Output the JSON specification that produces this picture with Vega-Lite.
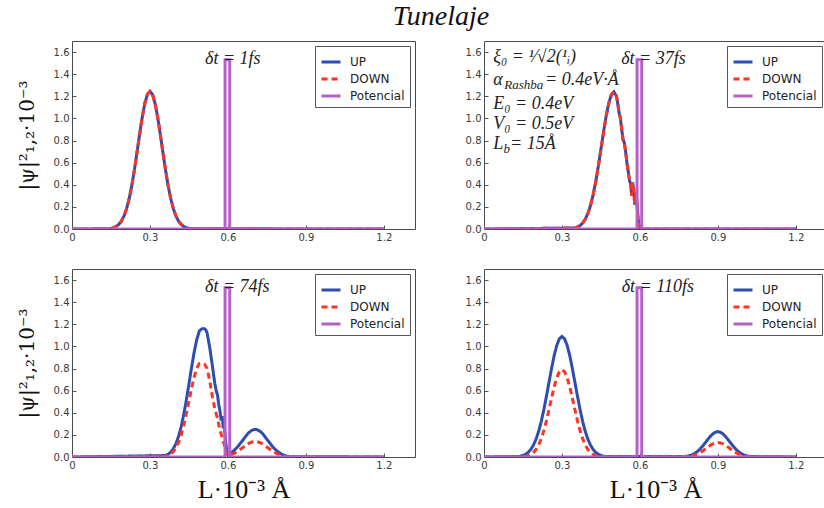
{
  "$schema": "https://vega.github.io/schema/vega-lite/v6.json",
  "padding": {"left": 16, "top": 2, "right": 0, "bottom": 0},
  "title": {"text": "Tunelaje", "font": "Liberation Serif", "fontStyle": "italic", "fontWeight": "normal", "fontSize": 28, "anchor": "middle", "offset": 10, "dx": 19, "color": "#111"},
  "columns": 2,
  "spacing": {"row": 40, "column": 69},
  "bounds": "flush",
  "datasets": {
    "curves": [
      {"panel":1,"series":"UP","x":0,"y":0},{"panel":1,"series":"UP","x":0.14,"y":0.002},{"panel":1,"series":"UP","x":0.15,"y":0.005},{"panel":1,"series":"UP","x":0.16,"y":0.012},{"panel":1,"series":"UP","x":0.17,"y":0.023},{"panel":1,"series":"UP","x":0.18,"y":0.041},{"panel":1,"series":"UP","x":0.19,"y":0.071},{"panel":1,"series":"UP","x":0.2,"y":0.117},{"panel":1,"series":"UP","x":0.21,"y":0.184},{"panel":1,"series":"UP","x":0.22,"y":0.274},{"panel":1,"series":"UP","x":0.23,"y":0.391},{"panel":1,"series":"UP","x":0.24,"y":0.532},{"panel":1,"series":"UP","x":0.25,"y":0.69},{"panel":1,"series":"UP","x":0.26,"y":0.853},{"panel":1,"series":"UP","x":0.27,"y":1.006},{"panel":1,"series":"UP","x":0.28,"y":1.133},{"panel":1,"series":"UP","x":0.29,"y":1.216},{"panel":1,"series":"UP","x":0.3,"y":1.245},{"panel":1,"series":"UP","x":0.31,"y":1.216},{"panel":1,"series":"UP","x":0.32,"y":1.133},{"panel":1,"series":"UP","x":0.33,"y":1.006},{"panel":1,"series":"UP","x":0.34,"y":0.853},{"panel":1,"series":"UP","x":0.35,"y":0.69},{"panel":1,"series":"UP","x":0.36,"y":0.532},{"panel":1,"series":"UP","x":0.37,"y":0.391},{"panel":1,"series":"UP","x":0.38,"y":0.274},{"panel":1,"series":"UP","x":0.39,"y":0.184},{"panel":1,"series":"UP","x":0.4,"y":0.117},{"panel":1,"series":"UP","x":0.41,"y":0.071},{"panel":1,"series":"UP","x":0.42,"y":0.041},{"panel":1,"series":"UP","x":0.43,"y":0.023},{"panel":1,"series":"UP","x":0.44,"y":0.012},{"panel":1,"series":"UP","x":0.45,"y":0.005},{"panel":1,"series":"UP","x":0.46,"y":0.002},{"panel":1,"series":"UP","x":1.2,"y":0},
      {"panel":1,"series":"DOWN","x":0,"y":0},{"panel":1,"series":"DOWN","x":0.14,"y":0.002},{"panel":1,"series":"DOWN","x":0.15,"y":0.005},{"panel":1,"series":"DOWN","x":0.16,"y":0.012},{"panel":1,"series":"DOWN","x":0.17,"y":0.023},{"panel":1,"series":"DOWN","x":0.18,"y":0.041},{"panel":1,"series":"DOWN","x":0.19,"y":0.071},{"panel":1,"series":"DOWN","x":0.2,"y":0.117},{"panel":1,"series":"DOWN","x":0.21,"y":0.184},{"panel":1,"series":"DOWN","x":0.22,"y":0.274},{"panel":1,"series":"DOWN","x":0.23,"y":0.391},{"panel":1,"series":"DOWN","x":0.24,"y":0.532},{"panel":1,"series":"DOWN","x":0.25,"y":0.69},{"panel":1,"series":"DOWN","x":0.26,"y":0.853},{"panel":1,"series":"DOWN","x":0.27,"y":1.006},{"panel":1,"series":"DOWN","x":0.28,"y":1.133},{"panel":1,"series":"DOWN","x":0.29,"y":1.216},{"panel":1,"series":"DOWN","x":0.3,"y":1.245},{"panel":1,"series":"DOWN","x":0.31,"y":1.216},{"panel":1,"series":"DOWN","x":0.32,"y":1.133},{"panel":1,"series":"DOWN","x":0.33,"y":1.006},{"panel":1,"series":"DOWN","x":0.34,"y":0.853},{"panel":1,"series":"DOWN","x":0.35,"y":0.69},{"panel":1,"series":"DOWN","x":0.36,"y":0.532},{"panel":1,"series":"DOWN","x":0.37,"y":0.391},{"panel":1,"series":"DOWN","x":0.38,"y":0.274},{"panel":1,"series":"DOWN","x":0.39,"y":0.184},{"panel":1,"series":"DOWN","x":0.4,"y":0.117},{"panel":1,"series":"DOWN","x":0.41,"y":0.071},{"panel":1,"series":"DOWN","x":0.42,"y":0.041},{"panel":1,"series":"DOWN","x":0.43,"y":0.023},{"panel":1,"series":"DOWN","x":0.44,"y":0.012},{"panel":1,"series":"DOWN","x":0.45,"y":0.005},{"panel":1,"series":"DOWN","x":0.46,"y":0.002},{"panel":1,"series":"DOWN","x":1.2,"y":0},
      {"panel":1,"series":"Potencial","x":0,"y":0},{"panel":1,"series":"Potencial","x":0.589,"y":0},{"panel":1,"series":"Potencial","x":0.589,"y":1.53},{"panel":1,"series":"Potencial","x":0.607,"y":1.53},{"panel":1,"series":"Potencial","x":0.607,"y":0},{"panel":1,"series":"Potencial","x":1.2,"y":0},

      {"panel":2,"series":"UP","x":0,"y":0},{"panel":2,"series":"UP","x":0.35,"y":0.009},{"panel":2,"series":"UP","x":0.36,"y":0.018},{"panel":2,"series":"UP","x":0.37,"y":0.032},{"panel":2,"series":"UP","x":0.38,"y":0.054},{"panel":2,"series":"UP","x":0.39,"y":0.09},{"panel":2,"series":"UP","x":0.4,"y":0.141},{"panel":2,"series":"UP","x":0.41,"y":0.214},{"panel":2,"series":"UP","x":0.42,"y":0.309},{"panel":2,"series":"UP","x":0.43,"y":0.428},{"panel":2,"series":"UP","x":0.44,"y":0.568},{"panel":2,"series":"UP","x":0.45,"y":0.721},{"panel":2,"series":"UP","x":0.46,"y":0.876},{"panel":2,"series":"UP","x":0.47,"y":1.02},{"panel":2,"series":"UP","x":0.48,"y":1.137},{"panel":2,"series":"UP","x":0.49,"y":1.213},{"panel":2,"series":"UP","x":0.5,"y":1.24},{"panel":2,"series":"UP","x":0.51,"y":1.2},{"panel":2,"series":"UP","x":0.515,"y":1.13},{"panel":2,"series":"UP","x":0.52,"y":1.05},{"panel":2,"series":"UP","x":0.525,"y":1.0},{"panel":2,"series":"UP","x":0.53,"y":0.9},{"panel":2,"series":"UP","x":0.535,"y":0.81},{"panel":2,"series":"UP","x":0.54,"y":0.78},{"panel":2,"series":"UP","x":0.545,"y":0.7},{"panel":2,"series":"UP","x":0.55,"y":0.6},{"panel":2,"series":"UP","x":0.555,"y":0.52},{"panel":2,"series":"UP","x":0.56,"y":0.44},{"panel":2,"series":"UP","x":0.565,"y":0.4},{"panel":2,"series":"UP","x":0.568,"y":0.3},{"panel":2,"series":"UP","x":0.572,"y":0.42},{"panel":2,"series":"UP","x":0.576,"y":0.36},{"panel":2,"series":"UP","x":0.58,"y":0.22},{"panel":2,"series":"UP","x":0.584,"y":0.33},{"panel":2,"series":"UP","x":0.588,"y":0.26},{"panel":2,"series":"UP","x":0.592,"y":0.12},{"panel":2,"series":"UP","x":0.596,"y":0.04},{"panel":2,"series":"UP","x":0.6,"y":0},{"panel":2,"series":"UP","x":1.2,"y":0},
      {"panel":2,"series":"DOWN","x":0,"y":0},{"panel":2,"series":"DOWN","x":0.35,"y":0.009},{"panel":2,"series":"DOWN","x":0.36,"y":0.018},{"panel":2,"series":"DOWN","x":0.37,"y":0.032},{"panel":2,"series":"DOWN","x":0.38,"y":0.054},{"panel":2,"series":"DOWN","x":0.39,"y":0.09},{"panel":2,"series":"DOWN","x":0.4,"y":0.141},{"panel":2,"series":"DOWN","x":0.41,"y":0.214},{"panel":2,"series":"DOWN","x":0.42,"y":0.309},{"panel":2,"series":"DOWN","x":0.43,"y":0.428},{"panel":2,"series":"DOWN","x":0.44,"y":0.568},{"panel":2,"series":"DOWN","x":0.45,"y":0.721},{"panel":2,"series":"DOWN","x":0.46,"y":0.876},{"panel":2,"series":"DOWN","x":0.47,"y":1.02},{"panel":2,"series":"DOWN","x":0.48,"y":1.137},{"panel":2,"series":"DOWN","x":0.49,"y":1.213},{"panel":2,"series":"DOWN","x":0.5,"y":1.24},{"panel":2,"series":"DOWN","x":0.51,"y":1.2},{"panel":2,"series":"DOWN","x":0.515,"y":1.13},{"panel":2,"series":"DOWN","x":0.52,"y":1.05},{"panel":2,"series":"DOWN","x":0.525,"y":1.0},{"panel":2,"series":"DOWN","x":0.53,"y":0.9},{"panel":2,"series":"DOWN","x":0.535,"y":0.81},{"panel":2,"series":"DOWN","x":0.54,"y":0.78},{"panel":2,"series":"DOWN","x":0.545,"y":0.7},{"panel":2,"series":"DOWN","x":0.55,"y":0.6},{"panel":2,"series":"DOWN","x":0.555,"y":0.52},{"panel":2,"series":"DOWN","x":0.56,"y":0.44},{"panel":2,"series":"DOWN","x":0.565,"y":0.4},{"panel":2,"series":"DOWN","x":0.568,"y":0.3},{"panel":2,"series":"DOWN","x":0.572,"y":0.42},{"panel":2,"series":"DOWN","x":0.576,"y":0.36},{"panel":2,"series":"DOWN","x":0.58,"y":0.22},{"panel":2,"series":"DOWN","x":0.584,"y":0.33},{"panel":2,"series":"DOWN","x":0.588,"y":0.26},{"panel":2,"series":"DOWN","x":0.592,"y":0.12},{"panel":2,"series":"DOWN","x":0.596,"y":0.04},{"panel":2,"series":"DOWN","x":0.6,"y":0},{"panel":2,"series":"DOWN","x":1.2,"y":0},
      {"panel":2,"series":"Potencial","x":0,"y":0},{"panel":2,"series":"Potencial","x":0.589,"y":0},{"panel":2,"series":"Potencial","x":0.589,"y":1.53},{"panel":2,"series":"Potencial","x":0.607,"y":1.53},{"panel":2,"series":"Potencial","x":0.607,"y":0},{"panel":2,"series":"Potencial","x":1.2,"y":0},

      {"panel":3,"series":"UP","x":0,"y":0},{"panel":3,"series":"UP","x":0.36,"y":0.013},{"panel":3,"series":"UP","x":0.37,"y":0.025},{"panel":3,"series":"UP","x":0.38,"y":0.045},{"panel":3,"series":"UP","x":0.39,"y":0.075},{"panel":3,"series":"UP","x":0.4,"y":0.121},{"panel":3,"series":"UP","x":0.41,"y":0.185},{"panel":3,"series":"UP","x":0.42,"y":0.272},{"panel":3,"series":"UP","x":0.43,"y":0.383},{"panel":3,"series":"UP","x":0.44,"y":0.514},{"panel":3,"series":"UP","x":0.45,"y":0.659},{"panel":3,"series":"UP","x":0.46,"y":0.807},{"panel":3,"series":"UP","x":0.47,"y":0.946},{"panel":3,"series":"UP","x":0.48,"y":1.06},{"panel":3,"series":"UP","x":0.49,"y":1.14},{"panel":3,"series":"UP","x":0.5,"y":1.16},{"panel":3,"series":"UP","x":0.51,"y":1.16},{"panel":3,"series":"UP","x":0.515,"y":1.15},{"panel":3,"series":"UP","x":0.52,"y":1.12},{"panel":3,"series":"UP","x":0.53,"y":0.99},{"panel":3,"series":"UP","x":0.54,"y":0.83},{"panel":3,"series":"UP","x":0.545,"y":0.74},{"panel":3,"series":"UP","x":0.55,"y":0.66},{"panel":3,"series":"UP","x":0.555,"y":0.6},{"panel":3,"series":"UP","x":0.56,"y":0.56},{"panel":3,"series":"UP","x":0.565,"y":0.47},{"panel":3,"series":"UP","x":0.57,"y":0.41},{"panel":3,"series":"UP","x":0.574,"y":0.33},{"panel":3,"series":"UP","x":0.578,"y":0.37},{"panel":3,"series":"UP","x":0.582,"y":0.26},{"panel":3,"series":"UP","x":0.586,"y":0.3},{"panel":3,"series":"UP","x":0.59,"y":0.16},{"panel":3,"series":"UP","x":0.595,"y":0.07},{"panel":3,"series":"UP","x":0.6,"y":0.02},{"panel":3,"series":"UP","x":0.605,"y":0.005},{"panel":3,"series":"UP","x":0.61,"y":0.035},{"panel":3,"series":"UP","x":0.62,"y":0.052},{"panel":3,"series":"UP","x":0.63,"y":0.074},{"panel":3,"series":"UP","x":0.64,"y":0.1},{"panel":3,"series":"UP","x":0.65,"y":0.13},{"panel":3,"series":"UP","x":0.66,"y":0.16},{"panel":3,"series":"UP","x":0.67,"y":0.192},{"panel":3,"series":"UP","x":0.68,"y":0.22},{"panel":3,"series":"UP","x":0.69,"y":0.238},{"panel":3,"series":"UP","x":0.7,"y":0.249},{"panel":3,"series":"UP","x":0.71,"y":0.249},{"panel":3,"series":"UP","x":0.72,"y":0.238},{"panel":3,"series":"UP","x":0.73,"y":0.22},{"panel":3,"series":"UP","x":0.74,"y":0.192},{"panel":3,"series":"UP","x":0.75,"y":0.16},{"panel":3,"series":"UP","x":0.76,"y":0.13},{"panel":3,"series":"UP","x":0.77,"y":0.1},{"panel":3,"series":"UP","x":0.78,"y":0.074},{"panel":3,"series":"UP","x":0.79,"y":0.052},{"panel":3,"series":"UP","x":0.8,"y":0.035},{"panel":3,"series":"UP","x":0.81,"y":0.022},{"panel":3,"series":"UP","x":0.82,"y":0.013},{"panel":3,"series":"UP","x":0.83,"y":0.007},{"panel":3,"series":"UP","x":0.84,"y":0.003},{"panel":3,"series":"UP","x":1.2,"y":0},
      {"panel":3,"series":"DOWN","x":0,"y":0},{"panel":3,"series":"DOWN","x":0.36,"y":0.007},{"panel":3,"series":"DOWN","x":0.37,"y":0.015},{"panel":3,"series":"DOWN","x":0.38,"y":0.028},{"panel":3,"series":"DOWN","x":0.39,"y":0.049},{"panel":3,"series":"DOWN","x":0.4,"y":0.083},{"panel":3,"series":"DOWN","x":0.41,"y":0.131},{"panel":3,"series":"DOWN","x":0.42,"y":0.199},{"panel":3,"series":"DOWN","x":0.43,"y":0.286},{"panel":3,"series":"DOWN","x":0.44,"y":0.389},{"panel":3,"series":"DOWN","x":0.45,"y":0.504},{"panel":3,"series":"DOWN","x":0.46,"y":0.619},{"panel":3,"series":"DOWN","x":0.47,"y":0.723},{"panel":3,"series":"DOWN","x":0.48,"y":0.802},{"panel":3,"series":"DOWN","x":0.49,"y":0.845},{"panel":3,"series":"DOWN","x":0.5,"y":0.85},{"panel":3,"series":"DOWN","x":0.51,"y":0.84},{"panel":3,"series":"DOWN","x":0.52,"y":0.8},{"panel":3,"series":"DOWN","x":0.53,"y":0.69},{"panel":3,"series":"DOWN","x":0.54,"y":0.55},{"panel":3,"series":"DOWN","x":0.55,"y":0.43},{"panel":3,"series":"DOWN","x":0.555,"y":0.39},{"panel":3,"series":"DOWN","x":0.56,"y":0.35},{"panel":3,"series":"DOWN","x":0.565,"y":0.29},{"panel":3,"series":"DOWN","x":0.57,"y":0.24},{"panel":3,"series":"DOWN","x":0.575,"y":0.2},{"panel":3,"series":"DOWN","x":0.58,"y":0.16},{"panel":3,"series":"DOWN","x":0.585,"y":0.12},{"panel":3,"series":"DOWN","x":0.59,"y":0.07},{"panel":3,"series":"DOWN","x":0.595,"y":0.03},{"panel":3,"series":"DOWN","x":0.6,"y":0.01},{"panel":3,"series":"DOWN","x":0.605,"y":0.003},{"panel":3,"series":"DOWN","x":0.61,"y":0.02},{"panel":3,"series":"DOWN","x":0.62,"y":0.029},{"panel":3,"series":"DOWN","x":0.63,"y":0.041},{"panel":3,"series":"DOWN","x":0.64,"y":0.056},{"panel":3,"series":"DOWN","x":0.65,"y":0.073},{"panel":3,"series":"DOWN","x":0.66,"y":0.09},{"panel":3,"series":"DOWN","x":0.67,"y":0.108},{"panel":3,"series":"DOWN","x":0.68,"y":0.123},{"panel":3,"series":"DOWN","x":0.69,"y":0.133},{"panel":3,"series":"DOWN","x":0.7,"y":0.139},{"panel":3,"series":"DOWN","x":0.71,"y":0.139},{"panel":3,"series":"DOWN","x":0.72,"y":0.133},{"panel":3,"series":"DOWN","x":0.73,"y":0.123},{"panel":3,"series":"DOWN","x":0.74,"y":0.108},{"panel":3,"series":"DOWN","x":0.75,"y":0.09},{"panel":3,"series":"DOWN","x":0.76,"y":0.073},{"panel":3,"series":"DOWN","x":0.77,"y":0.056},{"panel":3,"series":"DOWN","x":0.78,"y":0.041},{"panel":3,"series":"DOWN","x":0.79,"y":0.029},{"panel":3,"series":"DOWN","x":0.8,"y":0.02},{"panel":3,"series":"DOWN","x":0.81,"y":0.012},{"panel":3,"series":"DOWN","x":0.82,"y":0.007},{"panel":3,"series":"DOWN","x":0.83,"y":0.003},{"panel":3,"series":"DOWN","x":1.2,"y":0},
      {"panel":3,"series":"Potencial","x":0,"y":0},{"panel":3,"series":"Potencial","x":0.589,"y":0},{"panel":3,"series":"Potencial","x":0.589,"y":1.53},{"panel":3,"series":"Potencial","x":0.607,"y":1.53},{"panel":3,"series":"Potencial","x":0.607,"y":0},{"panel":3,"series":"Potencial","x":1.2,"y":0},

      {"panel":4,"series":"UP","x":0,"y":0},{"panel":4,"series":"UP","x":0.13,"y":0.004},{"panel":4,"series":"UP","x":0.14,"y":0.007},{"panel":4,"series":"UP","x":0.15,"y":0.014},{"panel":4,"series":"UP","x":0.16,"y":0.025},{"panel":4,"series":"UP","x":0.17,"y":0.042},{"panel":4,"series":"UP","x":0.18,"y":0.068},{"panel":4,"series":"UP","x":0.19,"y":0.107},{"panel":4,"series":"UP","x":0.2,"y":0.159},{"panel":4,"series":"UP","x":0.21,"y":0.23},{"panel":4,"series":"UP","x":0.22,"y":0.318},{"panel":4,"series":"UP","x":0.23,"y":0.425},{"panel":4,"series":"UP","x":0.24,"y":0.546},{"panel":4,"series":"UP","x":0.25,"y":0.674},{"panel":4,"series":"UP","x":0.26,"y":0.801},{"panel":4,"series":"UP","x":0.27,"y":0.917},{"panel":4,"series":"UP","x":0.28,"y":1.009},{"panel":4,"series":"UP","x":0.29,"y":1.069},{"panel":4,"series":"UP","x":0.3,"y":1.09},{"panel":4,"series":"UP","x":0.31,"y":1.069},{"panel":4,"series":"UP","x":0.32,"y":1.009},{"panel":4,"series":"UP","x":0.33,"y":0.917},{"panel":4,"series":"UP","x":0.34,"y":0.801},{"panel":4,"series":"UP","x":0.35,"y":0.674},{"panel":4,"series":"UP","x":0.36,"y":0.546},{"panel":4,"series":"UP","x":0.37,"y":0.425},{"panel":4,"series":"UP","x":0.38,"y":0.318},{"panel":4,"series":"UP","x":0.39,"y":0.23},{"panel":4,"series":"UP","x":0.4,"y":0.159},{"panel":4,"series":"UP","x":0.41,"y":0.107},{"panel":4,"series":"UP","x":0.42,"y":0.068},{"panel":4,"series":"UP","x":0.43,"y":0.042},{"panel":4,"series":"UP","x":0.44,"y":0.025},{"panel":4,"series":"UP","x":0.45,"y":0.014},{"panel":4,"series":"UP","x":0.46,"y":0.007},{"panel":4,"series":"UP","x":0.47,"y":0.004},{"panel":4,"series":"UP","x":0.77,"y":0.004},{"panel":4,"series":"UP","x":0.78,"y":0.007},{"panel":4,"series":"UP","x":0.79,"y":0.012},{"panel":4,"series":"UP","x":0.8,"y":0.019},{"panel":4,"series":"UP","x":0.81,"y":0.031},{"panel":4,"series":"UP","x":0.82,"y":0.047},{"panel":4,"series":"UP","x":0.83,"y":0.069},{"panel":4,"series":"UP","x":0.84,"y":0.095},{"panel":4,"series":"UP","x":0.85,"y":0.124},{"panel":4,"series":"UP","x":0.86,"y":0.155},{"panel":4,"series":"UP","x":0.87,"y":0.184},{"panel":4,"series":"UP","x":0.88,"y":0.208},{"panel":4,"series":"UP","x":0.89,"y":0.224},{"panel":4,"series":"UP","x":0.9,"y":0.23},{"panel":4,"series":"UP","x":0.91,"y":0.224},{"panel":4,"series":"UP","x":0.92,"y":0.208},{"panel":4,"series":"UP","x":0.93,"y":0.184},{"panel":4,"series":"UP","x":0.94,"y":0.155},{"panel":4,"series":"UP","x":0.95,"y":0.124},{"panel":4,"series":"UP","x":0.96,"y":0.095},{"panel":4,"series":"UP","x":0.97,"y":0.069},{"panel":4,"series":"UP","x":0.98,"y":0.047},{"panel":4,"series":"UP","x":0.99,"y":0.031},{"panel":4,"series":"UP","x":1.0,"y":0.019},{"panel":4,"series":"UP","x":1.01,"y":0.012},{"panel":4,"series":"UP","x":1.02,"y":0.007},{"panel":4,"series":"UP","x":1.03,"y":0.004},{"panel":4,"series":"UP","x":1.2,"y":0},
      {"panel":4,"series":"DOWN","x":0,"y":0},{"panel":4,"series":"DOWN","x":0.15,"y":0.003},{"panel":4,"series":"DOWN","x":0.16,"y":0.006},{"panel":4,"series":"DOWN","x":0.17,"y":0.012},{"panel":4,"series":"DOWN","x":0.18,"y":0.023},{"panel":4,"series":"DOWN","x":0.19,"y":0.04},{"panel":4,"series":"DOWN","x":0.2,"y":0.067},{"panel":4,"series":"DOWN","x":0.21,"y":0.107},{"panel":4,"series":"DOWN","x":0.22,"y":0.163},{"panel":4,"series":"DOWN","x":0.23,"y":0.236},{"panel":4,"series":"DOWN","x":0.24,"y":0.325},{"panel":4,"series":"DOWN","x":0.25,"y":0.426},{"panel":4,"series":"DOWN","x":0.26,"y":0.532},{"panel":4,"series":"DOWN","x":0.27,"y":0.633},{"panel":4,"series":"DOWN","x":0.28,"y":0.716},{"panel":4,"series":"DOWN","x":0.29,"y":0.771},{"panel":4,"series":"DOWN","x":0.3,"y":0.79},{"panel":4,"series":"DOWN","x":0.31,"y":0.771},{"panel":4,"series":"DOWN","x":0.32,"y":0.716},{"panel":4,"series":"DOWN","x":0.33,"y":0.633},{"panel":4,"series":"DOWN","x":0.34,"y":0.532},{"panel":4,"series":"DOWN","x":0.35,"y":0.426},{"panel":4,"series":"DOWN","x":0.36,"y":0.325},{"panel":4,"series":"DOWN","x":0.37,"y":0.236},{"panel":4,"series":"DOWN","x":0.38,"y":0.163},{"panel":4,"series":"DOWN","x":0.39,"y":0.107},{"panel":4,"series":"DOWN","x":0.4,"y":0.067},{"panel":4,"series":"DOWN","x":0.41,"y":0.04},{"panel":4,"series":"DOWN","x":0.42,"y":0.023},{"panel":4,"series":"DOWN","x":0.43,"y":0.012},{"panel":4,"series":"DOWN","x":0.44,"y":0.006},{"panel":4,"series":"DOWN","x":0.45,"y":0.003},{"panel":4,"series":"DOWN","x":0.78,"y":0.004},{"panel":4,"series":"DOWN","x":0.79,"y":0.007},{"panel":4,"series":"DOWN","x":0.8,"y":0.011},{"panel":4,"series":"DOWN","x":0.81,"y":0.018},{"panel":4,"series":"DOWN","x":0.82,"y":0.027},{"panel":4,"series":"DOWN","x":0.83,"y":0.039},{"panel":4,"series":"DOWN","x":0.84,"y":0.053},{"panel":4,"series":"DOWN","x":0.85,"y":0.07},{"panel":4,"series":"DOWN","x":0.86,"y":0.088},{"panel":4,"series":"DOWN","x":0.87,"y":0.104},{"panel":4,"series":"DOWN","x":0.88,"y":0.118},{"panel":4,"series":"DOWN","x":0.89,"y":0.127},{"panel":4,"series":"DOWN","x":0.9,"y":0.13},{"panel":4,"series":"DOWN","x":0.91,"y":0.127},{"panel":4,"series":"DOWN","x":0.92,"y":0.118},{"panel":4,"series":"DOWN","x":0.93,"y":0.104},{"panel":4,"series":"DOWN","x":0.94,"y":0.088},{"panel":4,"series":"DOWN","x":0.95,"y":0.07},{"panel":4,"series":"DOWN","x":0.96,"y":0.053},{"panel":4,"series":"DOWN","x":0.97,"y":0.039},{"panel":4,"series":"DOWN","x":0.98,"y":0.027},{"panel":4,"series":"DOWN","x":0.99,"y":0.018},{"panel":4,"series":"DOWN","x":1.0,"y":0.011},{"panel":4,"series":"DOWN","x":1.01,"y":0.007},{"panel":4,"series":"DOWN","x":1.02,"y":0.004},{"panel":4,"series":"DOWN","x":1.2,"y":0},
      {"panel":4,"series":"Potencial","x":0,"y":0},{"panel":4,"series":"Potencial","x":0.589,"y":0},{"panel":4,"series":"Potencial","x":0.589,"y":1.53},{"panel":4,"series":"Potencial","x":0.607,"y":1.53},{"panel":4,"series":"Potencial","x":0.607,"y":0},{"panel":4,"series":"Potencial","x":1.2,"y":0}
    ],
    "notes": [
      {"panel":1,"x":0.512,"y":1.54,"label":"δt = 1fs"},
      {"panel":2,"x":0.528,"y":1.54,"label":"δt = 37fs"},
      {"panel":3,"x":0.512,"y":1.54,"label":"δt = 74fs"},
      {"panel":4,"x":0.53,"y":1.54,"label":"δt = 110fs"},
      {"panel":2,"x":0.036,"y":1.555,"label":"ξ₀ = ¹⁄√2(¹ᵢ)"},
      {"panel":2,"x":0.036,"y":1.345,"label":"α"},
      {"panel":2,"x":0.235,"y":1.345,"label":"= 0.4eV·Å"},
      {"panel":2,"x":0.036,"y":1.133,"label":"E₀ = 0.4eV"},
      {"panel":2,"x":0.036,"y":0.947,"label":"V₀ = 0.5eV"},
      {"panel":2,"x":0.036,"y":0.766,"label":"L"},
      {"panel":2,"x":0.1,"y":0.766,"label":"= 15Å"}
    ],
    "subs": [
      {"panel":2,"x":0.078,"y":1.3,"label":"Rashba"},
      {"panel":2,"x":0.075,"y":0.725,"label":"b"}
    ]
  },
  "concat": [
    {
      "width": 343, "height": 188,
      "layer": [
        {"data": {"name": "curves"}, "transform": [{"filter": "datum.panel == 1"}],
         "mark": {"type": "line", "clip": true},
         "encoding": {
           "x": {"field": "x", "type": "quantitative", "scale": {"domain": [0, 1.32], "nice": false, "zero": false},
                 "axis": {"values": [0, 0.3, 0.6, 0.9, 1.2], "tickCount": 10, "labelExpr": "datum.value == 0 ? '0' : format(datum.value, '.1f')", "title": null}},
           "y": {"field": "y", "type": "quantitative", "scale": {"domain": [0, 1.7], "nice": false},
                 "axis": {"values": [0, 0.2, 0.4, 0.6, 0.8, 1.0, 1.2, 1.4, 1.6], "tickCount": 12, "format": ".1f", "title": "|ψ|²₁,₂·10⁻³"}},
           "color": {"field": "series", "type": "nominal", "scale": {"domain": ["UP", "DOWN", "Potencial"], "range": ["#2f4db0", "#ff3322", "#b560c8"]}, "legend": {"title": null}},
           "strokeDash": {"field": "series", "type": "nominal", "scale": {"domain": ["UP", "DOWN", "Potencial"], "range": [[1, 0], [6, 4], [1, 0]]}, "legend": {"title": null}},
           "strokeWidth": {"field": "series", "type": "ordinal", "scale": {"domain": ["UP", "DOWN", "Potencial"], "range": [3, 3, 1.8]}, "legend": null},
           "order": {"value": null}
         }},
        {"data": {"name": "notes"}, "transform": [{"filter": "datum.panel == 1"}],
         "mark": {"type": "text", "align": "left", "baseline": "middle", "font": "Liberation Serif", "fontStyle": "italic", "fontSize": 18, "color": "#222"},
         "encoding": {"x": {"field": "x", "type": "quantitative"}, "y": {"field": "y", "type": "quantitative"}, "text": {"field": "label"}}}
      ]
    },
    {
      "width": 343, "height": 188,
      "layer": [
        {"data": {"name": "curves"}, "transform": [{"filter": "datum.panel == 2"}],
         "mark": {"type": "line", "clip": true},
         "encoding": {
           "x": {"field": "x", "type": "quantitative", "scale": {"domain": [0, 1.32], "nice": false, "zero": false},
                 "axis": {"values": [0, 0.3, 0.6, 0.9, 1.2], "tickCount": 10, "labelExpr": "datum.value == 0 ? '0' : format(datum.value, '.1f')", "title": null}},
           "y": {"field": "y", "type": "quantitative", "scale": {"domain": [0, 1.7], "nice": false},
                 "axis": {"values": [0, 0.2, 0.4, 0.6, 0.8, 1.0, 1.2, 1.4, 1.6], "tickCount": 12, "format": ".1f", "title": null}},
           "color": {"field": "series", "type": "nominal", "scale": {"domain": ["UP", "DOWN", "Potencial"], "range": ["#2f4db0", "#ff3322", "#b560c8"]}, "legend": {"title": null}},
           "strokeDash": {"field": "series", "type": "nominal", "scale": {"domain": ["UP", "DOWN", "Potencial"], "range": [[1, 0], [6, 4], [1, 0]]}, "legend": {"title": null}},
           "strokeWidth": {"field": "series", "type": "ordinal", "scale": {"domain": ["UP", "DOWN", "Potencial"], "range": [3, 3, 1.8]}, "legend": null},
           "order": {"value": null}
         }},
        {"data": {"name": "notes"}, "transform": [{"filter": "datum.panel == 2"}],
         "mark": {"type": "text", "align": "left", "baseline": "middle", "font": "Liberation Serif", "fontStyle": "italic", "fontSize": 18, "color": "#222"},
         "encoding": {"x": {"field": "x", "type": "quantitative"}, "y": {"field": "y", "type": "quantitative"}, "text": {"field": "label"}}},
        {"data": {"name": "subs"}, "transform": [{"filter": "datum.panel == 2"}],
         "mark": {"type": "text", "align": "left", "baseline": "middle", "font": "Liberation Serif", "fontStyle": "italic", "fontSize": 13, "color": "#222"},
         "encoding": {"x": {"field": "x", "type": "quantitative"}, "y": {"field": "y", "type": "quantitative"}, "text": {"field": "label"}}}
      ]
    },
    {
      "width": 343, "height": 188,
      "layer": [
        {"data": {"name": "curves"}, "transform": [{"filter": "datum.panel == 3"}],
         "mark": {"type": "line", "clip": true},
         "encoding": {
           "x": {"field": "x", "type": "quantitative", "scale": {"domain": [0, 1.32], "nice": false, "zero": false},
                 "axis": {"values": [0, 0.3, 0.6, 0.9, 1.2], "tickCount": 10, "labelExpr": "datum.value == 0 ? '0' : format(datum.value, '.1f')", "title": "L·10⁻³ Å"}},
           "y": {"field": "y", "type": "quantitative", "scale": {"domain": [0, 1.7], "nice": false},
                 "axis": {"values": [0, 0.2, 0.4, 0.6, 0.8, 1.0, 1.2, 1.4, 1.6], "tickCount": 12, "format": ".1f", "title": "|ψ|²₁,₂·10⁻³"}},
           "color": {"field": "series", "type": "nominal", "scale": {"domain": ["UP", "DOWN", "Potencial"], "range": ["#2f4db0", "#ff3322", "#b560c8"]}, "legend": {"title": null}},
           "strokeDash": {"field": "series", "type": "nominal", "scale": {"domain": ["UP", "DOWN", "Potencial"], "range": [[1, 0], [6, 4], [1, 0]]}, "legend": {"title": null}},
           "strokeWidth": {"field": "series", "type": "ordinal", "scale": {"domain": ["UP", "DOWN", "Potencial"], "range": [3, 3, 1.8]}, "legend": null},
           "order": {"value": null}
         }},
        {"data": {"name": "notes"}, "transform": [{"filter": "datum.panel == 3"}],
         "mark": {"type": "text", "align": "left", "baseline": "middle", "font": "Liberation Serif", "fontStyle": "italic", "fontSize": 18, "color": "#222"},
         "encoding": {"x": {"field": "x", "type": "quantitative"}, "y": {"field": "y", "type": "quantitative"}, "text": {"field": "label"}}}
      ]
    },
    {
      "width": 343, "height": 188,
      "layer": [
        {"data": {"name": "curves"}, "transform": [{"filter": "datum.panel == 4"}],
         "mark": {"type": "line", "clip": true},
         "encoding": {
           "x": {"field": "x", "type": "quantitative", "scale": {"domain": [0, 1.32], "nice": false, "zero": false},
                 "axis": {"values": [0, 0.3, 0.6, 0.9, 1.2], "tickCount": 10, "labelExpr": "datum.value == 0 ? '0' : format(datum.value, '.1f')", "title": "L·10⁻³ Å"}},
           "y": {"field": "y", "type": "quantitative", "scale": {"domain": [0, 1.7], "nice": false},
                 "axis": {"values": [0, 0.2, 0.4, 0.6, 0.8, 1.0, 1.2, 1.4, 1.6], "tickCount": 12, "format": ".1f", "title": null}},
           "color": {"field": "series", "type": "nominal", "scale": {"domain": ["UP", "DOWN", "Potencial"], "range": ["#2f4db0", "#ff3322", "#b560c8"]}, "legend": {"title": null}},
           "strokeDash": {"field": "series", "type": "nominal", "scale": {"domain": ["UP", "DOWN", "Potencial"], "range": [[1, 0], [6, 4], [1, 0]]}, "legend": {"title": null}},
           "strokeWidth": {"field": "series", "type": "ordinal", "scale": {"domain": ["UP", "DOWN", "Potencial"], "range": [3, 3, 1.8]}, "legend": null},
           "order": {"value": null}
         }},
        {"data": {"name": "notes"}, "transform": [{"filter": "datum.panel == 4"}],
         "mark": {"type": "text", "align": "left", "baseline": "middle", "font": "Liberation Serif", "fontStyle": "italic", "fontSize": 18, "color": "#222"},
         "encoding": {"x": {"field": "x", "type": "quantitative"}, "y": {"field": "y", "type": "quantitative"}, "text": {"field": "label"}}}
      ]
    }
  ],
  "resolve": {
    "scale": {"color": "independent", "strokeDash": "independent", "strokeWidth": "independent"},
    "legend": {"color": "independent", "strokeDash": "independent"}
  },
  "config": {
    "view": {"stroke": "#4a4a4a", "strokeWidth": 1},
    "axis": {"grid": false, "domain": false, "labelFont": "DejaVu Sans", "labelFontSize": 10, "labelColor": "#3a3a3a", "labelOverlap": false, "labelFlush": false, "tickColor": "#555", "tickSize": -4, "labelPadding": 7, "titleFont": "DejaVu Serif", "titleFontWeight": "normal", "titleColor": "#111"},
    "axisY": {"titleFontSize": 20, "titlePadding": 16},
    "axisX": {"titleFontSize": 26, "titlePadding": 6, "titleFont": "Liberation Serif"},
    "legend": {"orient": "top-right", "offset": 5, "strokeColor": "#555", "fillColor": "white", "padding": 5, "symbolType": "stroke", "symbolSize": 361, "symbolStrokeWidth": 3, "labelFont": "DejaVu Sans", "labelFontSize": 12, "labelColor": "#222", "rowPadding": -1.5, "labelOffset": 8, "cornerRadius": 0}
  }
}
